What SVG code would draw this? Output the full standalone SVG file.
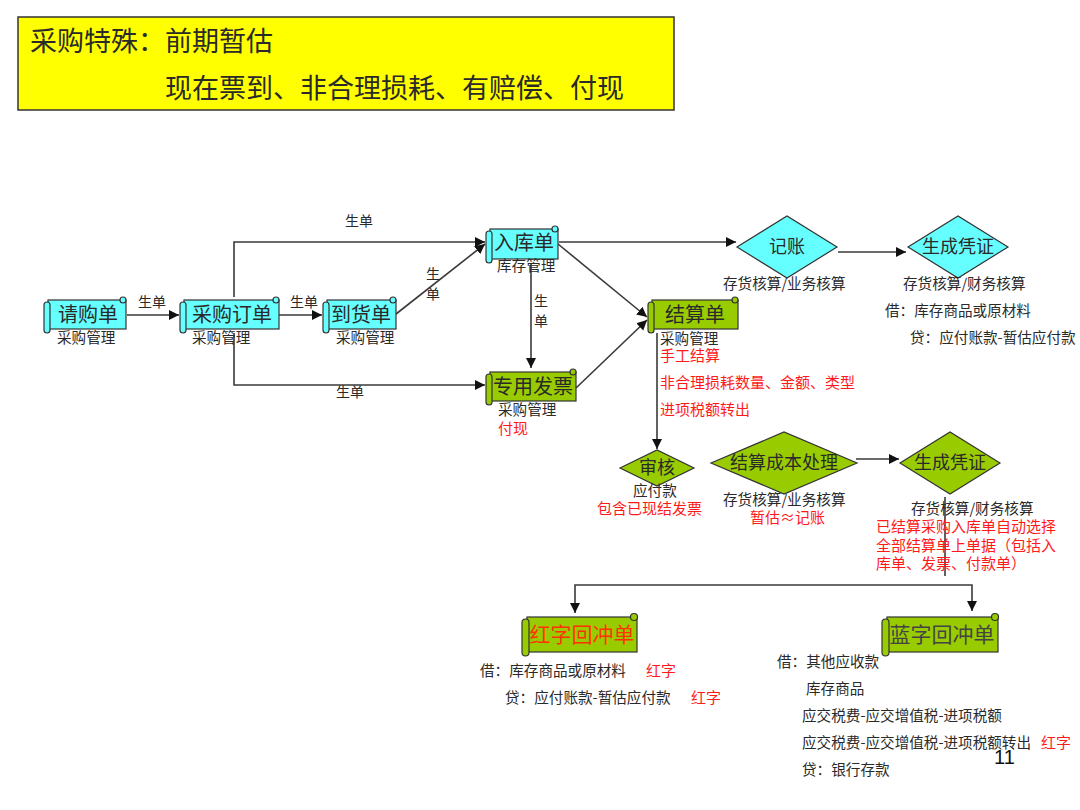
<svg xmlns="http://www.w3.org/2000/svg" width="1080" height="810" viewBox="0 0 1080 810">
<style>
text{font-family:"Noto Sans CJK SC","Liberation Sans",sans-serif;fill:#2a2a2a}
.sub{font-size:14.6px}
.red{font-size:15px;fill:#ff1a1a}
.node{font-size:20px}
.dia{font-size:18px;text-anchor:middle}
.lbl{font-size:14px}
.conn path{fill:none;stroke:#3a3a3a;stroke-width:1.6}
.cy{fill:#66ffff;stroke:#333;stroke-width:1.2}
.gr{fill:#99cc00;stroke:#333;stroke-width:1.2}
</style>
<defs>
<marker id="ah" markerUnits="userSpaceOnUse" markerWidth="11" markerHeight="11" refX="10" refY="5" orient="auto">
<path d="M0,0 L10,5 L0,10 z" fill="#111"/>
</marker>
</defs>
<rect width="1080" height="810" fill="#fff"/>

<g id="title">
<rect x="18" y="17" width="656" height="93" fill="#ffff00" stroke="#333" stroke-width="1.5"/>
<text x="30" y="51" font-size="27">采购特殊：前期暂估</text>
<text x="165" y="98" font-size="27">现在票到、非合理损耗、有赔偿、付现</text>
</g>

<g class="conn" id="connectors">
<path d="M127 315 H179" marker-end="url(#ah)"/>
<path d="M279 315 H322" marker-end="url(#ah)"/>
<path d="M234 297 V242 H485" marker-end="url(#ah)"/>
<path d="M234 333 V385 H485" marker-end="url(#ah)"/>
<path d="M396 314 L485 244" marker-end="url(#ah)"/>
<path d="M531 264 V368" marker-end="url(#ah)"/>
<path d="M558 244 L647 317" marker-end="url(#ah)"/>
<path d="M576 388 L647 320" marker-end="url(#ah)"/>
<path d="M559 242 H736" marker-end="url(#ah)"/>
<path d="M838 252 H906" marker-end="url(#ah)"/>
<path d="M657 333 V449" marker-end="url(#ah)"/>
<path d="M856 459 H899" marker-end="url(#ah)"/>
<path d="M945 497 V576"/>
<path d="M773 585 H575 V613" marker-end="url(#ah)"/>
<path d="M773 585 H972 V611" marker-end="url(#ah)"/>
<text class="lbl" x="138" y="307">生单</text>
<text class="lbl" x="290" y="307">生单</text>
<text class="lbl" x="345" y="226">生单</text>
<text class="lbl" x="336" y="397">生单</text>
<text class="lbl" x="426" y="279">生</text>
<text class="lbl" x="426" y="299">单</text>
<text class="lbl" x="534" y="306">生</text>
<text class="lbl" x="534" y="326">单</text>
</g>

<g id="n-qinggoudan">
<rect class="cy" x="48" y="300" width="78" height="29"/>
<rect class="cy" x="44" y="302" width="6" height="31" rx="3"/>
<circle class="cy" cx="123" cy="300" r="3"/>
<text class="node" x="88" y="322" text-anchor="middle">请购单</text>
<text class="sub" x="57" y="343">采购管理</text>
</g>

<g id="n-caigoudingdan">
<rect class="cy" x="184" y="300" width="95" height="29"/>
<rect class="cy" x="180" y="302" width="6" height="31" rx="3"/>
<circle class="cy" cx="276" cy="300" r="3"/>
<text class="node" x="232" y="322" text-anchor="middle">采购订单</text>
<text class="sub" x="192" y="343">采购管理</text>
</g>

<g id="n-daohuodan">
<rect class="cy" x="327" y="300" width="69" height="29"/>
<rect class="cy" x="323" y="302" width="6" height="31" rx="3"/>
<circle class="cy" cx="393" cy="300" r="3"/>
<text class="node" x="361" y="322" text-anchor="middle">到货单</text>
<text class="sub" x="336" y="343">采购管理</text>
</g>

<g id="n-rukudan">
<rect class="cy" x="490" y="229" width="68" height="30"/>
<rect class="cy" x="486" y="231" width="6" height="32" rx="3"/>
<circle class="cy" cx="555" cy="229" r="3"/>
<text class="node" x="524" y="250" text-anchor="middle">入库单</text>
<text class="sub" x="497" y="271">库存管理</text>
</g>

<g id="n-jiesuandan">
<rect class="gr" x="652" y="300" width="86" height="29"/>
<rect class="gr" x="648" y="302" width="6" height="31" rx="3"/>
<circle class="gr" cx="735" cy="300" r="3"/>
<text class="node" x="695" y="322" text-anchor="middle">结算单</text>
<text class="sub" x="660" y="344">采购管理</text>
<text class="red" x="660" y="361">手工结算</text>
<text class="red" x="660" y="388">非合理损耗数量、金额、类型</text>
<text class="red" x="660" y="415">进项税额转出</text>
</g>

<g id="n-zhuanyongfapiao">
<rect class="gr" x="490" y="372" width="86" height="29"/>
<rect class="gr" x="486" y="374" width="6" height="31" rx="3"/>
<circle class="gr" cx="573" cy="372" r="3"/>
<text class="node" x="533" y="394" text-anchor="middle">专用发票</text>
<text class="sub" x="498" y="415">采购管理</text>
<text class="red" x="498" y="434">付现</text>
</g>

<g id="n-jizhang">
<polygon class="cy" points="737,247 787,216 837,247 787,278"/>
<text class="dia" x="787" y="253">记账</text>
<text class="sub" x="723" y="289">存货核算/业务核算</text>
</g>

<g id="n-pingzheng1">
<polygon class="cy" points="908,247 958,216 1008,247 958,278"/>
<text class="dia" x="958" y="253">生成凭证</text>
<text class="sub" x="903" y="289">存货核算/财务核算</text>
<text class="sub" x="885" y="316">借：库存商品或原材料</text>
<text class="sub" x="910" y="343">贷：应付账款-暂估应付款</text>
</g>

<g id="n-shenhe">
<polygon class="gr" points="620,468 657,450 694,468 657,486"/>
<text class="dia" x="657" y="474">审核</text>
<text class="sub" x="633" y="496">应付款</text>
<text class="red" x="597" y="514">包含已现结发票</text>
</g>

<g id="n-chengben">
<polygon class="gr" points="711,463 784,432 857,463 784,494"/>
<text class="dia" x="784" y="469">结算成本处理</text>
<text class="sub" x="723" y="505">存货核算/业务核算</text>
<text class="red" x="750" y="523">暂估≈记账</text>
</g>

<g id="n-pingzheng2">
<polygon class="gr" points="900,463 950,432 1000,463 950,494"/>
<text class="dia" x="950" y="469">生成凭证</text>
<text class="sub" x="911" y="514">存货核算/财务核算</text>
<text class="red" x="876" y="532">已结算采购入库单自动选择</text>
<text class="red" x="876" y="551">全部结算单上单据（包括入</text>
<text class="red" x="876" y="569">库单、发票、付款单）</text>
</g>

<g id="n-hongzi">
<rect class="gr" x="527" y="617" width="110" height="35"/>
<rect class="gr" x="522" y="619" width="7" height="37" rx="3.5"/>
<circle class="gr" cx="634" cy="617" r="3.5"/>
<text x="582" y="642" font-size="21" text-anchor="middle" style="fill:#ff3300">红字回冲单</text>
<text class="sub" x="480" y="676">借：库存商品或原材料</text>
<text class="red" x="646" y="676">红字</text>
<text class="sub" x="505" y="703">贷：应付账款-暂估应付款</text>
<text class="red" x="691" y="703">红字</text>
</g>

<g id="n-lanzi">
<rect class="gr" x="887" y="617" width="111" height="35"/>
<rect class="gr" x="882" y="619" width="7" height="37" rx="3.5"/>
<circle class="gr" cx="995" cy="617" r="3.5"/>
<text x="942" y="642" font-size="21" text-anchor="middle" style="fill:#444">蓝字回冲单</text>
<text class="sub" x="777" y="667">借：其他应收款</text>
<text class="sub" x="806" y="694">库存商品</text>
<text class="sub" x="802" y="721">应交税费-应交增值税-进项税额</text>
<text class="sub" x="802" y="748">应交税费-应交增值税-进项税额转出</text>
<text class="red" x="1041" y="748">红字</text>
<text class="sub" x="802" y="775">贷：银行存款</text>
</g>

<text x="994" y="764" font-size="20" style="font-family:'Liberation Sans',Arial,sans-serif;fill:#111">11</text>
</svg>
